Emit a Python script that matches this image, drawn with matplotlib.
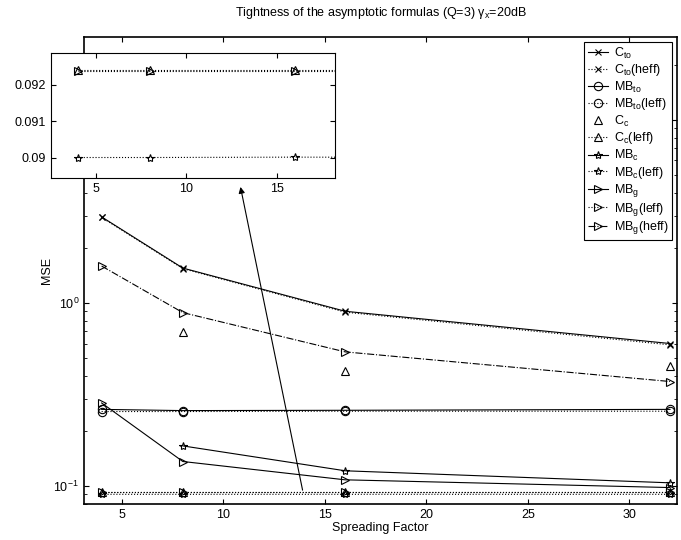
import numpy as np
import matplotlib
matplotlib.use("Agg")
import matplotlib.pyplot as plt

plt.rcParams['font.family'] = ['Liberation Sans', 'DejaVu Sans']
plt.rcParams['mathtext.default'] = 'regular'
plt.rcParams['font.size'] = 9

# spreading factors
sf = [4, 8, 16, 32]

# MSE values
c_to = [2.95, 1.55, 0.90, 0.60]
c_to_heff = [2.93, 1.54, 0.89, 0.59]
mb_to = [0.262, 0.258, 0.259, 0.262]
mb_to_leff = [0.255, 0.255, 0.256, 0.256]
c_c = [np.nan, 0.697, 0.425, 0.454]
c_c_leff = [0.0924, 0.0924, 0.0924, 0.0924]
mb_c = [np.nan, 0.1655, 0.121, 0.104]
mb_c_leff = [0.0900, 0.0900, 0.09001, 0.0900]
mb_g = [0.284, 0.136, 0.108, 0.098]
mb_g_leff = [0.09238, 0.09238, 0.09238, 0.09238]
mb_g_heff = [1.59, 0.885, 0.54, 0.372]

series = [
    (c_to, '-', 'x', 'C$_{to}$'),
    (c_to_heff, ':', 'x', 'C$_{to}$(heff)'),
    (mb_to, '-', 'o', 'MB$_{to}$'),
    (mb_to_leff, ':', 'o', 'MB$_{to}$(leff)'),
    (c_c, 'none', '^', 'C$_c$'),
    (c_c_leff, ':', '^', 'C$_c$(leff)'),
    (mb_c, '-', '*', 'MB$_c$'),
    (mb_c_leff, ':', '*', 'MB$_c$(leff)'),
    (mb_g, '-', '>', 'MB$_g$'),
    (mb_g_leff, ':', '>', 'MB$_g$(leff)'),
    (mb_g_heff, '-.', '>', 'MB$_g$(heff)'),
]

fig = plt.figure(figsize=(6.81, 5.4), dpi=100)
ax = fig.add_axes([0.1233, 0.0667, 0.871, 0.865])

for vals, ls, mk, lab in series:
    ms = 5 if mk == 'x' else 6
    ax.plot(sf, vals, linestyle=ls, marker=mk, color='black', lw=0.8,
            markersize=ms, markerfacecolor='none', markeredgewidth=0.8, label=lab)

ax.set_yscale('log')
ax.set_xlim(3.13, 32.35)
ax.set_ylim(0.0797, 28.4)
ax.set_xlabel('Spreading Factor', labelpad=1)
ax.set_ylabel('MSE', labelpad=0)
ax.set_title('Tightness of the asymptotic formulas (Q=3) $\\gamma_x$=20dB', fontsize=9, pad=15)
ax.tick_params(which='both', direction='in', top=True, right=True)
for s in ax.spines.values():
    s.set_linewidth(1.2)

leg = ax.legend(loc='upper right', fontsize=9, handlelength=1.6, labelspacing=0.12,
                handletextpad=0.5, borderpad=0.3, fancybox=False, edgecolor='black',
                borderaxespad=0.4, framealpha=1)
leg.get_frame().set_linewidth(0.8)

ax.annotate('', xy=(10.84, 4.3), xytext=(13.9, 0.0948),
            arrowprops=dict(arrowstyle='-|>', color='black', lw=0.8,
                            mutation_scale=9, shrinkA=0, shrinkB=0))

# zoomed inset
ins = fig.add_axes([0.0744, 0.670, 0.4175, 0.2326])
for vals, ls, mk, lab in series:
    ms = 5 if mk == 'x' else 6
    ins.plot(sf, vals, linestyle=ls, marker=mk, color='black', lw=0.8,
             markersize=ms, markerfacecolor='none', markeredgewidth=0.8)
ins.set_xlim(2.5, 18.2)
ins.set_ylim(0.08943, 0.09289)
ins.set_xticks([5, 10, 15])
ins.set_yticks([0.09, 0.091, 0.092])
ins.set_yticklabels(['0.09', '0.091', '0.092'])
ins.tick_params(direction='in', top=True, right=True)

fig.savefig('out.png', dpi=100)
